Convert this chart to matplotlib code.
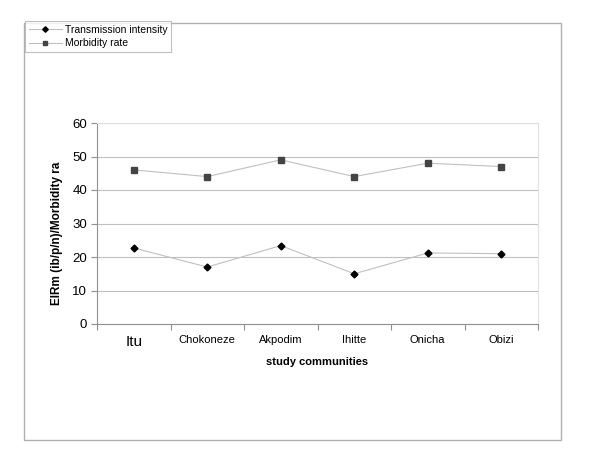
import matplotlib
matplotlib.use("Agg")
import matplotlib.pyplot as plt
from matplotlib.patches import Rectangle

communities = ["Itu", "Chokoneze", "Akpodim", "Ihitte", "Onicha", "Obizi"]
transmission = [22.7, 17.0, 23.4, 15.0, 21.2, 21.0]
morbidity = [46.0, 44.0, 49.0, 44.0, 48.0, 47.0]

GRID = "#c0c0c0"
AXIS = "#909090"

plt.rcParams.update({
    "font.family": ["Liberation Sans", "DejaVu Sans"],
    "text.color": "black",
})

fig = plt.figure(figsize=(6.0, 4.67), dpi=100)
ax = fig.add_axes([97 / 600, 1 - 324 / 467, 441 / 600, 201 / 467])

x = list(range(len(communities)))
ax.plot(x, transmission, color=GRID, lw=0.8, marker="D", ms=3.5,
        mfc="black", mec="black", label="Transmission intensity", zorder=3)
ax.plot(x, morbidity, color=GRID, lw=0.8, marker="s", ms=4,
        mfc="#444444", mec="#444444", label="Morbidity rate", zorder=3)

ax.set_xlim(-0.5, len(communities) - 0.5)
ax.set_ylim(0, 60)
ax.set_yticks(range(0, 61, 10))
ax.yaxis.grid(True, color=GRID, lw=0.8)
ax.set_axisbelow(True)

# category labels centred, tick marks on the boundaries
ax.set_xticks([i + 0.5 for i in range(-1, len(communities))], minor=False)
ax.set_xticklabels([])
ax.set_xticks(x, minor=True)
ax.set_xticklabels(communities, minor=True)
ax.tick_params(axis="x", which="minor", length=0, pad=8, labelsize=8)
ax.tick_params(axis="x", which="major", length=4, color=AXIS, direction="out")
ax.tick_params(axis="y", length=4, color=AXIS, labelsize=9.5, pad=3)
for lab in ax.get_xticklabels(minor=True):
    if lab.get_text() == "Itu":
        lab.set_fontsize(11)

ax.spines["left"].set_color(AXIS)
ax.spines["bottom"].set_color(AXIS)
ax.spines["top"].set_color("#e0e0e0")
ax.spines["right"].set_color("#e0e0e0")

ax.set_xlabel("study communities", fontsize=8, fontweight="bold", labelpad=6)
ax.set_ylabel("EIRm (ib/p/n)/Morbidity ra", fontsize=8.5, fontweight="bold")
ax.yaxis.set_label_coords(-0.078, 0.45)

# outer chart frame
fig.patches.append(Rectangle((24 / 600, 1 - 440 / 467), 537 / 600, 417 / 467,
                             transform=fig.transFigure, fill=False,
                             edgecolor="#b0b0b0", lw=1))

leg = fig.legend(loc="upper left", bbox_to_anchor=(25 / 600, 1 - 21 / 467),
                 fontsize=7.5, frameon=True, fancybox=False, edgecolor="#b0b0b0",
                 borderaxespad=0, handlelength=3.2, borderpad=0.35, labelspacing=0.35,
                 markerscale=0.8, handletextpad=0.3)
leg.get_frame().set_linewidth(0.8)

fig.savefig("out.png", dpi=100, facecolor="white")
